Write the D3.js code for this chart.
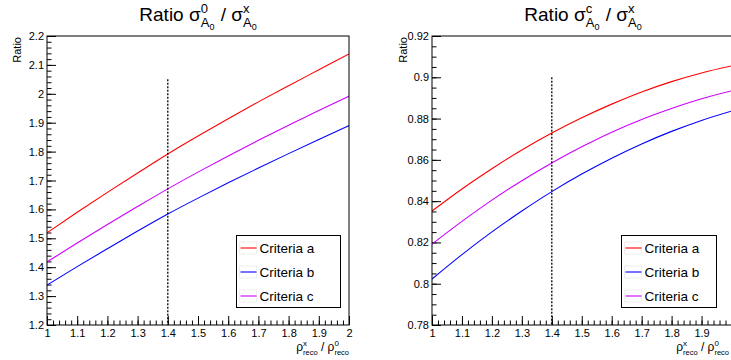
<!DOCTYPE html>
<html><head><meta charset="utf-8">
<script src="https://cdn.jsdelivr.net/npm/d3@7"></script>
<style>
body{margin:0;background:#fff}
svg{display:block}
text{font-family:"Liberation Sans",Arial,Helvetica,sans-serif;fill:#000;white-space:pre}
</style>
</head><body>
<svg id="chart" width="731" height="360"></svg>
<script>
// ---------- data ----------
const xValues = [1.0, 1.1, 1.2, 1.3, 1.4, 1.5, 1.6, 1.7, 1.8, 1.9, 2.0];
const seriesLabels = ["Criteria a", "Criteria b", "Criteria c"];
const seriesColors = ["#ff0000", "#0000ff", "#cc00ff"];

// left panel: ratio sigma^0 / sigma^x
const zeroA = [1.519, 1.590, 1.659, 1.726, 1.792, 1.854, 1.914, 1.972, 2.028, 2.083, 2.138];
const zeroB = [1.338, 1.402, 1.464, 1.525, 1.584, 1.639, 1.692, 1.743, 1.793, 1.842, 1.890];
const zeroC = [1.418, 1.484, 1.548, 1.610, 1.671, 1.729, 1.785, 1.839, 1.891, 1.942, 1.992];

// right panel: ratio sigma^c / sigma^x
const cA = [0.8352, 0.8459, 0.8557, 0.8648, 0.8730, 0.8804, 0.8870, 0.8929, 0.8979, 0.9021, 0.9055];
const cB = [0.8023, 0.8141, 0.8251, 0.8352, 0.8446, 0.8531, 0.8608, 0.8677, 0.8738, 0.8791, 0.8836];
const cC = [0.8192, 0.8302, 0.8405, 0.8499, 0.8585, 0.8663, 0.8734, 0.8796, 0.8849, 0.8896, 0.8934];

const xDomain = [1, 2];
const leftXTicks = [1, 1.1, 1.2, 1.3, 1.4, 1.5, 1.6, 1.7, 1.8, 1.9, 2];
const rightXTicks = [1, 1.1, 1.2, 1.3, 1.4, 1.5, 1.6, 1.7, 1.8, 1.9];
const leftYDomain = [1.2, 2.2];
const leftYTicks = [1.2, 1.3, 1.4, 1.5, 1.6, 1.7, 1.8, 1.9, 2.0, 2.1, 2.2];
const rightYDomain = [0.78, 0.92];
const rightYTicks = [0.78, 0.80, 0.82, 0.84, 0.86, 0.88, 0.90, 0.92];

const markerX = 1.4;
const markerTopLeft = 2.05;
const markerTopRight = 0.90;

// ---------- helpers ----------
const svg = d3.select("#chart");
const fmt = v => String(+v.toFixed(3));

function range(a, b, step) {
  const out = []; const n = Math.round((b - a) / step);
  for (let i = 0; i <= n; i++) out.push(+(a + i * step).toFixed(4));
  return out;
}

// draw rich text: parts = [{t,size} | {sup:[...], sub:[...]}]
function rich(parent, parts) {
  const g = parent.append("g");
  let x = 0;
  function run(list, x0, dyBase) {
    let xx = x0;
    list.forEach(p => {
      const t = g.append("text").attr("x", xx).attr("y", dyBase + (p.dy || 0))
        .attr("xml:space", "preserve")
        .attr("font-size", p.size).text(p.t);
      xx += t.node().getComputedTextLength();
    });
    return xx - x0;
  }
  parts.forEach(p => {
    if (p.t !== undefined) {
      x += run([p], x, 0);
    } else {
      const w1 = run(p.sup, x, p.supDy);
      const w2 = run(p.sub, x, p.subDy);
      x += Math.max(w1, w2) + (p.pad || 0);
    }
  });
  return {g, width: x};
}

function drawPanel(cfg) {
  const {x0, x1, y0, y1, yDomain, yTicks, xTicks, yMinorStep, series, markerTop, legend, title, titleCx} = cfg;
  const x = d3.scaleLinear().domain(xDomain).range([x0, x1]);
  const y = d3.scaleLinear().domain(yDomain).range([y1, y0]);
  const root = svg.append("g");

  const clipId = "clip" + Math.round(x0);
  root.append("clipPath").attr("id", clipId).append("rect")
    .attr("x", x0).attr("y", y0).attr("width", x1 - x0).attr("height", y1 - y0);

  const styleText = g => g.selectAll("text").attr("font-size", 11)
    .attr("font-family", "Liberation Sans, Arial, sans-serif").attr("fill", "#000");

  // y axis
  root.append("g").attr("transform", `translate(${x0},0)`)
    .call(d3.axisLeft(y).tickValues(range(yDomain[0], yDomain[1], yMinorStep)).tickSize(-4.5).tickFormat(""))
    .call(g => g.select(".domain").remove())
    .call(g => g.selectAll("line").attr("stroke", "#000"));
  root.append("g").attr("transform", `translate(${x0},0)`)
    .call(d3.axisLeft(y).tickValues(yTicks).tickSize(-9).tickPadding(3).tickFormat(fmt))
    .call(g => g.select(".domain").remove())
    .call(g => g.selectAll("line").attr("stroke", "#000"))
    .call(styleText);

  // x axis
  root.append("g").attr("transform", `translate(0,${y1})`)
    .call(d3.axisBottom(x).tickValues(range(xDomain[0], xDomain[1], 0.02)).tickSize(-4.5).tickFormat(""))
    .call(g => g.select(".domain").remove())
    .call(g => g.selectAll("line").attr("stroke", "#000"));
  root.append("g").attr("transform", `translate(0,${y1})`)
    .call(d3.axisBottom(x).tickValues(xTicks).tickSize(-9).tickPadding(4).tickFormat(fmt))
    .call(g => g.select(".domain").remove())
    .call(g => g.selectAll("line").attr("stroke", "#000"))
    .call(styleText);

  // curves
  const line = d3.line().x((d, i) => x(xValues[i])).y(d => y(d)).curve(d3.curveMonotoneX);
  const cg = root.append("g").attr("clip-path", `url(#${clipId})`);
  series.forEach((s, i) => {
    cg.append("path").attr("d", line(s)).attr("fill", "none")
      .attr("stroke", seriesColors[i]).attr("stroke-width", 1.1);
  });

  // dotted marker
  cg.append("line").attr("x1", x(markerX)).attr("x2", x(markerX))
    .attr("y1", y(markerTop)).attr("y2", y1)
    .attr("stroke", "#000").attr("stroke-width", 1.3).attr("stroke-dasharray", "2,1.5");

  // frame
  root.append("rect").attr("x", x0).attr("y", y0).attr("width", x1 - x0).attr("height", y1 - y0)
    .attr("fill", "none").attr("stroke", "#000").attr("stroke-width", 1);

  // y title
  root.append("text").attr("transform", `translate(${cfg.yTitleX},${y0 + 1}) rotate(-90)`)
    .attr("text-anchor", "end").attr("font-size", 11).text("Ratio");

  // title
  const tg = root.append("g");
  const tt = rich(tg, title);
  tg.attr("transform", `translate(${titleCx - tt.width / 2},21)`);

  // x title (right aligned)
  const xg = root.append("g");
  const xt = rich(xg, [
    {t: "ρ", size: 12},
    {sup: [{t: "x", size: 8}], sub: [{t: "reco", size: 7.5}], supDy: -5, subDy: 4},
    {t: " / ρ", size: 12},
    {sup: [{t: "0", size: 8}], sub: [{t: "reco", size: 7.5}], supDy: -5, subDy: 4}
  ]);
  xg.attr("transform", `translate(${cfg.xTitleRight - xt.width},351)`);

  // legend
  const L = legend;
  root.append("rect").attr("x", L.x).attr("y", L.y).attr("width", L.w).attr("height", L.h)
    .attr("fill", "#fff").attr("stroke", "#000").attr("stroke-width", 1);
  seriesLabels.forEach((lab, i) => {
    const cy = L.y + 12.5 + i * 24;
    root.append("rect").attr("x", L.x + 3).attr("y", cy - 6).attr("width", 17).attr("height", 12)
      .attr("fill", "none").attr("stroke", "#eeeeee").attr("stroke-width", 1);
    root.append("line").attr("x1", L.x + 4).attr("x2", L.x + 20).attr("y1", cy).attr("y2", cy)
      .attr("stroke", seriesColors[i]).attr("stroke-width", 1.1);
    root.append("text").attr("x", L.x + 23).attr("y", cy + 4.8).attr("font-size", 13.5).text(lab);
  });
}

const A0 = [{t: "A", size: 13}, {t: "0", size: 9, dy: 3}];

drawPanel({
  x0: 47, x1: 349, y0: 36, y1: 325,
  yDomain: leftYDomain, yTicks: leftYTicks, xTicks: leftXTicks, yMinorStep: 0.02,
  series: [zeroA, zeroB, zeroC], markerTop: markerTopLeft,
  legend: {x: 236.5, y: 235.5, w: 104, h: 72},
  yTitleX: 21, xTitleRight: 349,
  titleCx: 198,
  title: [
    {t: "Ratio σ", size: 19},
    {sup: [{t: "0", size: 13}], sub: A0, supDy: -8, subDy: 6, pad: 1},
    {t: " / σ", size: 19},
    {sup: [{t: "x", size: 13}], sub: A0, supDy: -8, subDy: 6}
  ]
});

drawPanel({
  x0: 432, x1: 731.5, y0: 36, y1: 325,
  yDomain: rightYDomain, yTicks: rightYTicks, xTicks: rightXTicks, yMinorStep: 0.005,
  series: [cA, cB, cC], markerTop: markerTopRight,
  legend: {x: 621.5, y: 235.5, w: 95, h: 72},
  yTitleX: 407, xTitleRight: 729,
  titleCx: 583,
  title: [
    {t: "Ratio σ", size: 19},
    {sup: [{t: "c", size: 13}], sub: A0, supDy: -8, subDy: 6, pad: 1},
    {t: " / σ", size: 19},
    {sup: [{t: "x", size: 13}], sub: A0, supDy: -8, subDy: 6}
  ]
});
</script>
</body></html>
